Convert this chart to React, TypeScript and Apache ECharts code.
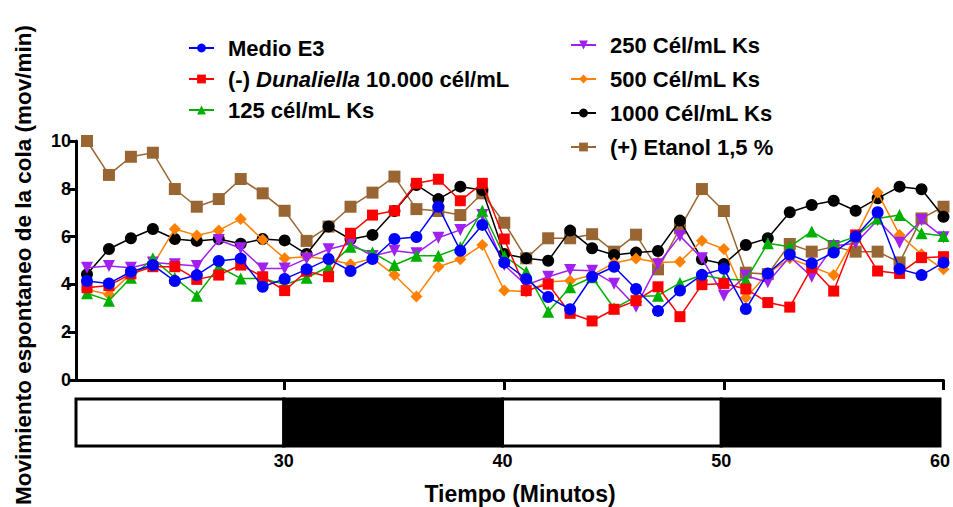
import React, { useEffect, useRef } from "react";
import * as echarts from "echarts";

const minutes = [21, 22, 23, 24, 25, 26, 27, 28, 29, 30, 31, 32, 33, 34, 35, 36, 37, 38, 39, 40, 41, 42, 43, 44, 45, 46, 47, 48, 49, 50, 51, 52, 53, 54, 55, 56, 57, 58, 59, 60];

const medioE3 = [4.14, 4.04, 4.53, 4.81, 4.14, 4.39, 4.98, 5.08, 3.9, 4.23, 4.63, 5.06, 4.56, 5.06, 5.9, 5.98, 7.25, 5.41, 6.49, 4.91, 4.23, 3.47, 2.96, 4.32, 4.74, 3.81, 2.89, 3.74, 4.4, 4.65, 2.97, 4.46, 5.25, 4.88, 5.33, 6.0, 7.02, 4.64, 4.39, 4.91];
const dunaliella = [3.86, 3.95, 4.44, 4.74, 4.74, 4.21, 4.39, 4.81, 4.32, 3.74, 4.55, 4.32, 6.14, 6.9, 7.08, 8.23, 8.4, 7.5, 8.23, 5.9, 3.74, 4.01, 2.79, 2.47, 2.96, 3.32, 3.9, 2.65, 3.99, 4.04, 3.81, 3.24, 3.05, 4.7, 3.72, 6.07, 4.56, 4.46, 5.12, 5.16];
const ks125 = [3.63, 3.32, 4.28, 5.09, 4.28, 3.53, 4.74, 4.25, 4.25, 4.0, 4.28, 4.74, 5.58, 5.33, 4.81, 5.2, 5.2, 5.55, 7.08, 5.19, 4.53, 2.86, 3.88, 4.3, 3.0, 3.49, 3.53, 4.06, 4.39, 4.22, 4.18, 5.72, 5.58, 6.21, 5.68, 6.0, 6.76, 6.9, 6.14, 6.03];
const ks250 = [4.7, 4.77, 4.7, 4.92, 4.84, 4.77, 5.86, 5.51, 4.67, 4.67, 5.08, 5.47, 5.7, 5.19, 5.41, 5.3, 5.95, 6.28, 6.9, 4.81, 3.97, 4.32, 4.6, 4.57, 4.03, 3.07, 4.84, 6.03, 5.09, 3.52, 4.36, 4.09, 5.16, 4.32, 5.61, 5.72, 6.69, 5.74, 6.69, 5.97];
const ks500 = [3.79, 3.58, 4.45, 4.81, 6.32, 6.05, 6.26, 6.74, 5.87, 5.09, 5.16, 5.05, 4.84, 5.09, 4.39, 3.49, 4.74, 5.05, 5.65, 3.74, 3.7, 4.11, 4.15, 4.39, 4.9, 5.08, 4.92, 4.95, 5.83, 5.48, 3.44, 4.46, 5.09, 4.74, 4.39, 6.0, 7.84, 6.07, 5.26, 4.63];
const ks1000 = [4.42, 5.48, 5.93, 6.32, 5.9, 5.82, 5.9, 5.7, 5.9, 5.84, 5.27, 6.42, 5.89, 6.07, 7.07, 8.16, 7.57, 8.09, 7.95, 5.27, 5.09, 4.99, 6.25, 5.51, 5.23, 5.33, 5.4, 6.67, 5.05, 4.85, 5.65, 5.93, 7.02, 7.32, 7.5, 7.08, 7.6, 8.09, 7.98, 6.83];
const etanol = [10.0, 8.58, 9.34, 9.51, 7.99, 7.25, 7.57, 8.41, 7.81, 7.08, 5.82, 6.42, 7.25, 7.84, 8.51, 7.15, 7.07, 6.9, 7.81, 6.58, 5.09, 5.93, 5.93, 6.1, 5.37, 6.08, 4.63, 6.35, 7.99, 7.07, 4.49, 4.43, 5.69, 5.37, 5.58, 5.37, 5.37, 4.92, 6.76, 7.25];

const seriesNames = [
  "Medio E3",
  "(-) Dunaliella 10.000 cél/mL",
  "125 cél/mL Ks",
  "250 Cél/mL Ks",
  "500 Cél/mL Ks",
  "1000 Cél/mL Ks",
  "(+) Etanol 1,5 %",
];
const seriesValues = [medioE3, dunaliella, ks125, ks250, ks500, ks1000, etanol];
const seriesColors = ["#0000FF", "#FF0000", "#00B000", "#A020F0", "#FF8000", "#000000", "#996633"];
const seriesSymbols = ["circle", "rect", "triangle", "triangle", "diamond", "circle", "rect"];
const seriesRotate = [0, 0, 0, 180, 0, 0, 0];
const seriesSymbolSize = [12, 11, 12, 12, 12, 12, 12];

// light / dark periods (start minute, end minute, 0 = light, 1 = dark)
const periodStart = [20.5, 30, 40, 50];
const periodEnd = [30, 40, 50, 60];
const periodDark = [0, 1, 0, 1];

const xTicks = [30, 40, 50, 60];
const yTitle = "Movimiento espontaneo de la cola (mov/min)";
const xTitle = "Tiempo (Minutos)";

const FONT = "'Liberation Sans', Arial, Helvetica, sans-serif";

export default function App() {
  const ref = useRef<HTMLDivElement>(null);

  useEffect(() => {
    if (!ref.current) return;
    const chart = echarts.init(ref.current, undefined, { renderer: "svg" });

    const lineSeries = seriesNames.map((name, i) => ({
      name,
      type: "line",
      xAxisIndex: 0,
      yAxisIndex: 0,
      data: minutes.map((m, j) => [m, seriesValues[i][j]]),
      symbol: seriesSymbols[i],
      symbolRotate: seriesRotate[i],
      symbolSize: seriesSymbolSize[i],
      showSymbol: true,
      z: 10 - i,
      lineStyle: { color: seriesColors[i], width: 1.5 },
      itemStyle: { color: seriesColors[i], borderWidth: 0 },
      emphasis: { disabled: true },
    }));

    const periodData = periodStart.map((s, i) => [s, periodEnd[i], periodDark[i]]);

    const legendText = {
      fontFamily: FONT,
      fontWeight: "bold",
      fontSize: 22,
      color: "#000",
      padding: [0, 0, 0, 9],
      rich: {
        i: { fontFamily: FONT, fontWeight: "bold", fontStyle: "italic", fontSize: 22, color: "#000" },
        n: { fontFamily: FONT, fontWeight: "bold", fontSize: 22, color: "#000" },
      },
    };
    const legendFormatter = (name: string) =>
      name.indexOf("Dunaliella") >= 0 ? "{n|(-) }{i|Dunaliella}{n| 10.000 cél/mL}" : name;

    const option: any = {
      animation: false,
      backgroundColor: "#fff",
      grid: [
        { left: 76, right: 9.5, top: 141, height: 239, containLabel: false },
        { left: 76, right: 9.5, top: 399, height: 47, containLabel: false },
      ],
      xAxis: [
        {
          type: "value",
          gridIndex: 0,
          min: 20.5,
          max: 60,
          axisLine: { show: true, lineStyle: { color: "#000", width: 3 } },
          axisTick: { show: true, customValues: xTicks, length: 10, lineStyle: { color: "#000", width: 3 } },
          axisLabel: { show: false },
          splitLine: { show: false },
        },
        {
          type: "value",
          gridIndex: 1,
          min: 20.5,
          max: 60,
          axisLine: { show: false },
          axisTick: { show: false },
          axisLabel: {
            show: true,
            customValues: xTicks,
            fontFamily: FONT,
            fontWeight: "bold",
            fontSize: 18,
            color: "#000",
            margin: 6,
          },
          splitLine: { show: false },
        },
      ],
      yAxis: [
        {
          type: "value",
          gridIndex: 0,
          min: 0,
          max: 10,
          interval: 2,
          axisLine: { show: true, lineStyle: { color: "#000", width: 3 } },
          axisTick: { show: true, length: 8, lineStyle: { color: "#000", width: 3 } },
          axisLabel: { fontFamily: FONT, fontWeight: "bold", fontSize: 18, color: "#000", margin: 5 },
          splitLine: { show: false },
        },
        {
          type: "value",
          gridIndex: 1,
          min: 0,
          max: 1,
          show: false,
        },
      ],
      legend: [
        {
          data: seriesNames.slice(0, 3),
          orient: "vertical",
          left: 183,
          top: 32,
          itemWidth: 25,
          itemHeight: 11,
          itemGap: 9,
          textStyle: legendText,
          formatter: legendFormatter,
          selectedMode: false,
        },
        {
          data: seriesNames.slice(3),
          orient: "vertical",
          left: 565,
          top: 29,
          itemWidth: 25,
          itemHeight: 11,
          itemGap: 12,
          textStyle: legendText,
          formatter: legendFormatter,
          selectedMode: false,
        },
      ],
      graphic: [
        {
          type: "text",
          x: 23,
          y: 265,
          rotation: Math.PI / 2,
          style: {
            text: yTitle,
            font: `bold 22.5px ${FONT}`,
            fill: "#000",
            textAlign: "center",
            textVerticalAlign: "middle",
          },
        },
        {
          type: "text",
          x: 520,
          y: 494,
          style: {
            text: xTitle,
            font: `bold 23px ${FONT}`,
            fill: "#000",
            textAlign: "center",
            textVerticalAlign: "middle",
          },
        },
      ],
      series: [
        ...lineSeries,
        {
          type: "custom",
          xAxisIndex: 1,
          yAxisIndex: 1,
          data: periodData,
          silent: true,
          renderItem: (params: any, api: any) => {
            const p0 = api.coord([api.value(0), 1]);
            const p1 = api.coord([api.value(1), 0]);
            return {
              type: "rect",
              shape: { x: p0[0], y: p0[1], width: p1[0] - p0[0], height: p1[1] - p0[1] },
              style: { fill: api.value(2) === 1 ? "#000" : "#fff", stroke: "#000", lineWidth: 3 },
            };
          },
        },
      ],
    };

    chart.setOption(option);
    return () => chart.dispose();
  }, []);

  return <div ref={ref} style={{ width: 953, height: 507, position: "absolute", left: 0, top: 0 }} />;
}
